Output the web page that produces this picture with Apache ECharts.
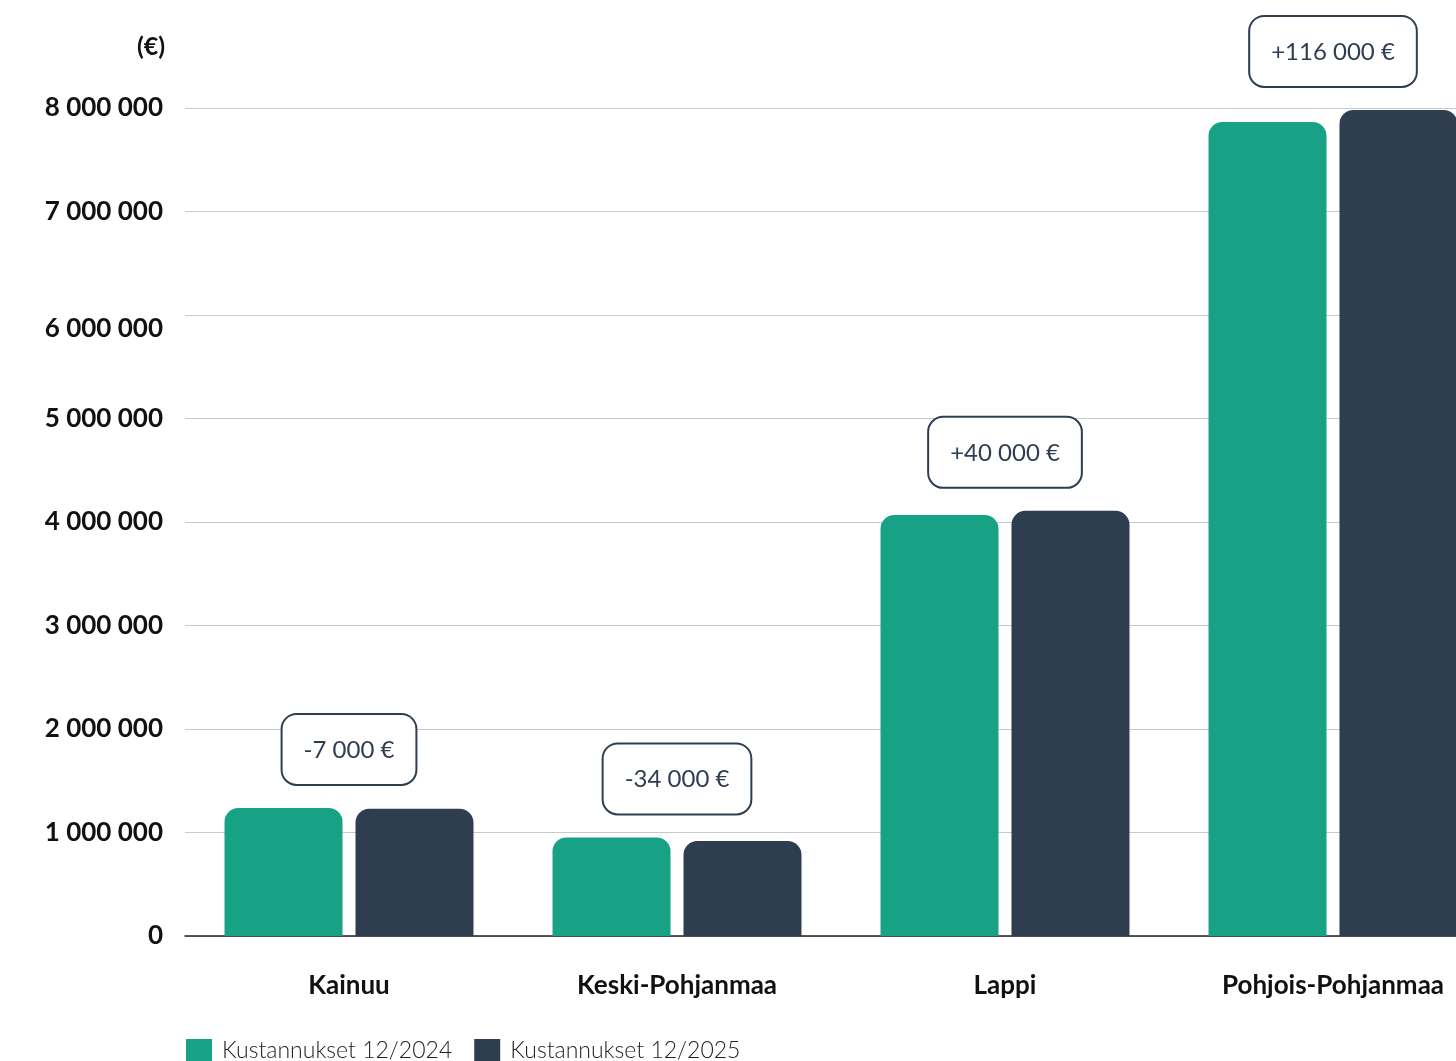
<!DOCTYPE html>
<html>
<head>
<meta charset="utf-8">
<script src="https://cdn.jsdelivr.net/npm/echarts@6/dist/echarts.min.js"></script>
<style>
  html, body { margin: 0; padding: 0; background: #fff; }
  #chart { width: 1456px; height: 1061px; }
</style>
</head>
<body>
<div id="chart"></div>
<script>
// Regions and yearly cost totals (€)
const regions = ['Kainuu', 'Keski-Pohjanmaa', 'Lappi', 'Pohjois-Pohjanmaa'];
const costs2024 = [1237000, 952000, 4068000, 7865000];
const change = [-7000, -34000, 40000, 116000];
const costs2025 = costs2024.map((v, i) => v + change[i]);
const seriesNames = ['Kustannukset 12/2024', 'Kustannukset 12/2025'];
const yTicks = [0, 1000000, 2000000, 3000000, 4000000, 5000000, 6000000, 7000000, 8000000];

const GREEN = '#17a185';
const NAVY = '#2e3e50';
const FONT = 'Lato, "Noto Sans", sans-serif';

const fmtNum = n => String(Math.abs(n)).replace(/\B(?=(\d{3})+(?!\d))/g, ' ');
const fmtChange = n => (n >= 0 ? '+' : '-') + fmtNum(n) + ' €';

// anchor for the change bubble: top of the taller bar in each pair
const peaks = costs2024.map((v, i) => Math.max(v, costs2025[i]));

const chart = echarts.init(document.getElementById('chart'));
chart.setOption({
  animation: false,
  textStyle: { fontFamily: FONT },
  graphic: [{
    type: 'text', left: 137, top: 34,
    style: { text: '(€)', font: 'bold 25px ' + FONT, fill: '#111' }
  }],
  legend: {
    data: seriesNames,
    left: 186, bottom: -2, padding: 0,
    itemWidth: 26, itemHeight: 24, itemGap: 22,
    icon: 'rect',
    textStyle: { fontSize: 23, color: '#222', fontWeight: 300, fontFamily: FONT, padding: [0, 0, 0, 5] }
  },
  grid: { left: 185, top: 108, bottom: 125, width: 1312, outerBoundsMode: 'none', containLabel: false },
  xAxis: {
    type: 'category',
    data: regions,
    axisLine: { lineStyle: { color: '#222', width: 1.5 } },
    axisTick: { show: false },
    axisLabel: { margin: 37, fontSize: 26, fontWeight: 'bold', color: '#111', fontFamily: FONT }
  },
  yAxis: {
    type: 'value',
    min: 0, max: 8000000, interval: 1000000,
    axisLine: { show: false },
    axisTick: { show: false },
    splitLine: { lineStyle: { color: '#c5cad0', width: 1.2 } },
    axisLabel: {
      margin: 22, fontSize: 26, fontWeight: 'bold', color: '#111', fontFamily: FONT,
      formatter: v => v === yTicks[6] ? '{low|' + fmtNum(v) + '}' : fmtNum(v),
      rich: { low: { fontSize: 26, fontWeight: 'bold', color: '#111', fontFamily: FONT, padding: [28, 0, 0, 0] } }
    }
  },
  series: [
    {
      name: seriesNames[0], type: 'bar', data: costs2024,
      barWidth: 118, barGap: '11%',
      itemStyle: { color: GREEN, borderRadius: [14, 14, 0, 0] }
    },
    {
      name: seriesNames[1], type: 'bar', data: costs2025,
      barWidth: 118,
      itemStyle: { color: NAVY, borderRadius: [14, 14, 0, 0] }
    },
    {
      name: 'muutos', type: 'scatter', data: peaks,
      symbolSize: 0, silent: true,
      itemStyle: { opacity: 1 },
      label: {
        show: true, position: 'top', distance: 24, opacity: 1,
        formatter: p => fmtChange(change[p.dataIndex]),
        fontSize: 24, color: NAVY, fontFamily: FONT,
        textBorderWidth: 0, shadowBlur: 0, shadowColor: 'transparent',
        backgroundColor: '#fff', borderColor: NAVY, borderWidth: 2, borderRadius: 14,
        padding: [23, 21, 22, 21]
      }
    }
  ]
});
</script>
</body>
</html>
